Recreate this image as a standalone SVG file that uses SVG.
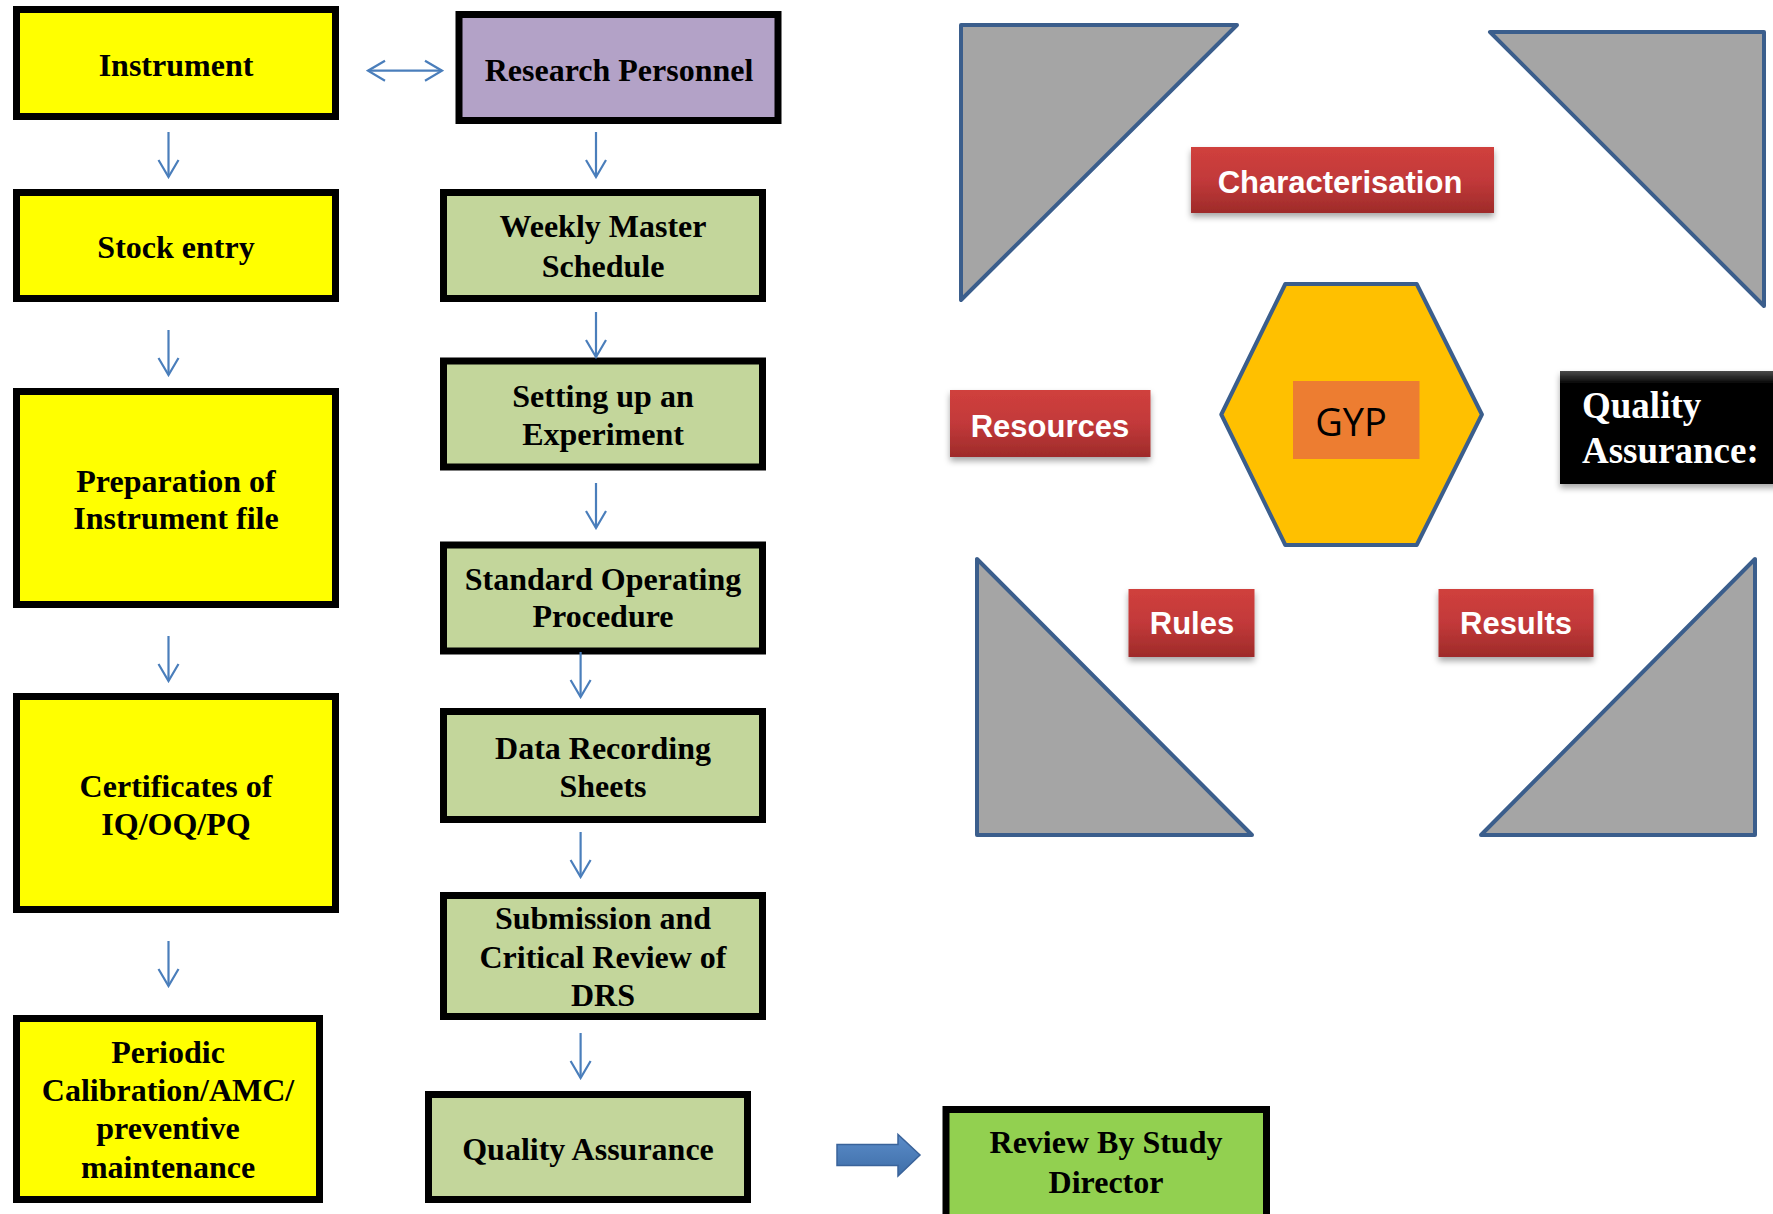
<svg xmlns="http://www.w3.org/2000/svg" width="1773" height="1214" viewBox="0 0 1773 1214">
<style>
.box{stroke:#000;stroke-width:7}
.y{fill:#FFFF00}
.g{fill:#C3D69B}
.p{fill:#B3A2C7}
.gg{fill:#92D050}
.t{font-family:"Liberation Serif","Times New Roman",serif;font-weight:bold;font-size:32px;fill:#000;text-anchor:middle}
.tri{fill:#A5A5A5;stroke:#3B5E8C;stroke-width:4;stroke-linejoin:round}
.lbl{font-family:"Liberation Sans",Arial,sans-serif;font-weight:bold;font-size:31px;fill:#fff;text-anchor:middle}
.ln{stroke:#4A7EBB;stroke-width:2.2;fill:none}
</style>
<defs>
<marker id="ah" markerUnits="userSpaceOnUse" viewBox="-19 -12 21 24" refX="0" refY="0" markerWidth="21" markerHeight="24" orient="auto-start-reverse">
<path d="M-17,-10 L0,0 L-17,10" fill="none" stroke="#4A7EBB" stroke-width="2.2"/>
</marker>
<linearGradient id="red" x1="0" y1="0" x2="0" y2="1">
<stop offset="0" stop-color="#D0403C"/>
<stop offset="0.5" stop-color="#C2393A"/>
<stop offset="1" stop-color="#9E2B29"/>
</linearGradient>
<linearGradient id="blk" x1="0" y1="0" x2="0" y2="1">
<stop offset="0" stop-color="#4a4a4a"/>
<stop offset="0.12" stop-color="#000"/>
<stop offset="1" stop-color="#000"/>
</linearGradient>
<linearGradient id="blue" x1="0" y1="0" x2="0" y2="1">
<stop offset="0" stop-color="#5B8CC9"/>
<stop offset="1" stop-color="#3E6EA8"/>
</linearGradient>
<filter id="sh" x="-10%" y="-10%" width="130%" height="140%">
<feDropShadow dx="0" dy="4" stdDeviation="3" flood-color="#000" flood-opacity="0.35"/>
</filter>
</defs>

<!-- left column -->
<g id="instrument"><rect class="box y" x="16.5" y="9.5" width="319" height="107"/><text class="t" x="176" y="76">Instrument</text></g>
<g id="stock-entry"><rect class="box y" x="16.5" y="192.5" width="319" height="106"/><text class="t" x="176" y="258">Stock entry</text></g>
<g id="preparation"><rect class="box y" x="16.5" y="391.5" width="319" height="213"/><text class="t" x="176" y="492">Preparation of</text><text class="t" x="176" y="529">Instrument file</text></g>
<g id="certificates"><rect class="box y" x="16.5" y="696.5" width="319" height="213"/><text class="t" x="176" y="797">Certificates of</text><text class="t" x="176" y="835">IQ/OQ/PQ</text></g>
<g id="periodic"><rect class="box y" x="16.5" y="1018.5" width="303" height="181"/><text class="t" x="168" y="1063">Periodic</text><text class="t" x="168" y="1101">Calibration/AMC/</text><text class="t" x="168" y="1139">preventive</text><text class="t" x="168" y="1178">maintenance</text></g>

<!-- right column -->
<g id="research-personnel"><rect class="box p" x="459" y="14.5" width="319" height="106"/><text class="t" x="619" y="81">Research Personnel</text></g>
<g id="weekly-master"><rect class="box g" x="443.5" y="192.5" width="319" height="106"/><text class="t" x="603" y="237">Weekly Master</text><text class="t" x="603" y="277">Schedule</text></g>
<g id="setting-up"><rect class="box g" x="443.5" y="361" width="319" height="106"/><text class="t" x="603" y="407">Setting up an</text><text class="t" x="603" y="445">Experiment</text></g>
<g id="sop"><rect class="box g" x="443.5" y="545" width="319" height="106"/><text class="t" x="603" y="590">Standard Operating</text><text class="t" x="603" y="627">Procedure</text></g>
<g id="data-recording"><rect class="box g" x="443.5" y="711.5" width="319" height="108"/><text class="t" x="603" y="759">Data Recording</text><text class="t" x="603" y="797">Sheets</text></g>
<g id="submission"><rect class="box g" x="443.5" y="895.5" width="319" height="121"/><text class="t" x="603" y="929">Submission and</text><text class="t" x="603" y="968">Critical Review of</text><text class="t" x="603" y="1006">DRS</text></g>
<g id="quality-assurance"><rect class="box g" x="428.5" y="1094.5" width="319" height="105"/><text class="t" x="588" y="1160">Quality Assurance</text></g>
<g id="review"><rect class="box gg" x="946" y="1109.5" width="320.5" height="120"/><text class="t" x="1106" y="1153">Review By Study</text><text class="t" x="1106" y="1193">Director</text></g>

<!-- connectors -->
<g id="connectors">
<path class="ln" d="M368,70.7 L442,70.7" marker-start="url(#ah)" marker-end="url(#ah)"/>
<path class="ln" d="M168.5,132 L168.5,177" marker-end="url(#ah)"/>
<path class="ln" d="M168.5,330 L168.5,375" marker-end="url(#ah)"/>
<path class="ln" d="M168.5,636 L168.5,681" marker-end="url(#ah)"/>
<path class="ln" d="M168.5,941 L168.5,986" marker-end="url(#ah)"/>
<path class="ln" d="M596,132 L596,177" marker-end="url(#ah)"/>
<path class="ln" d="M596,312 L596,357" marker-end="url(#ah)"/>
<path class="ln" d="M596,483 L596,528" marker-end="url(#ah)"/>
<path class="ln" d="M580.6,652 L580.6,697" marker-end="url(#ah)"/>
<path class="ln" d="M580.6,832 L580.6,877" marker-end="url(#ah)"/>
<path class="ln" d="M580.6,1033 L580.6,1078" marker-end="url(#ah)"/>
<path d="M837,1144.5 L898,1144.5 L898,1134.5 L920,1155 L898,1176 L898,1165.5 L837,1165.5 Z" fill="url(#blue)" stroke="#3A639A" stroke-width="1.5"/>
</g>

<!-- right-side graphic -->
<g id="triangles">
<polygon class="tri" points="961,25 1237,25 961,300"/>
<polygon class="tri" points="1490,32 1764,32 1764,306"/>
<polygon class="tri" points="977,559 977,835 1252,835"/>
<polygon class="tri" points="1755,559 1755,835 1481,835"/>
</g>
<g id="gyp">
<polygon points="1285.3,284 1416.7,284 1481.9,414.5 1416.7,545 1285.3,545 1221.3,414.5" fill="#FFC000" stroke="#3B5E8C" stroke-width="4" stroke-linejoin="round"/>
<rect x="1293" y="381" width="126.5" height="78" fill="#ED7D31"/>
<text x="1351" y="436" font-family="'Open Sans','Liberation Sans',sans-serif" font-size="38" fill="#000" text-anchor="middle">GYP</text>
</g>
<g id="characterisation"><rect x="1191" y="147" width="303" height="66" fill="url(#red)" filter="url(#sh)"/><text class="lbl" x="1340" y="193" font-size="32">Characterisation</text></g>
<g id="resources"><rect x="950" y="390" width="200.5" height="67" fill="url(#red)" filter="url(#sh)"/><text class="lbl" x="1050" y="437">Resources</text></g>
<g id="rules"><rect x="1128.5" y="589" width="126" height="68" fill="url(#red)" filter="url(#sh)"/><text class="lbl" x="1192" y="634">Rules</text></g>
<g id="results"><rect x="1438.5" y="589" width="155" height="68" fill="url(#red)" filter="url(#sh)"/><text class="lbl" x="1516" y="634">Results</text></g>
<g id="qa-label"><rect x="1560" y="371" width="220" height="113" fill="url(#blk)" filter="url(#sh)"/>
<text x="1582" y="418" font-family="'Liberation Serif','Times New Roman',serif" font-weight="bold" font-size="37" fill="#fff">Quality</text>
<text x="1582" y="463" font-family="'Liberation Serif','Times New Roman',serif" font-weight="bold" font-size="37" fill="#fff">Assurance:</text>
</g>
</svg>
